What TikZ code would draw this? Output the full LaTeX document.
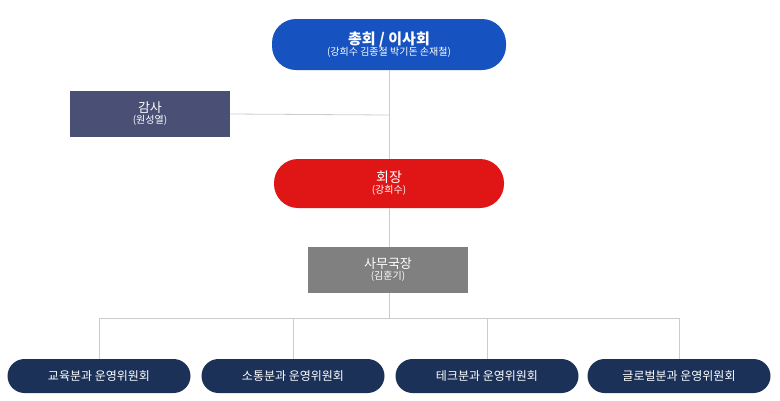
\documentclass[tikz,border=0pt]{standalone}
\usepackage{fontspec}
\setmainfont{Noto Sans CJK KR}
\begin{document}
\begin{tikzpicture}[x=1pt,y=-1pt,
  pill/.style={rounded corners=24pt,text=white,align=center,inner sep=0pt},
  box/.style={text=white,align=center,inner sep=0pt},
  conn/.style={draw=black!20,line width=0.8pt}]
\definecolor{cblue}{HTML}{1652C0}
\definecolor{cred}{HTML}{E01616}
\definecolor{cgray}{HTML}{808080}
\definecolor{cslate}{HTML}{4A5075}
\definecolor{cnavy}{HTML}{1B3158}
\useasboundingbox (0,0) rectangle (780,400);
\node[pill,fill=cblue,minimum width=234pt,minimum height=51pt] (top) at (389,44.5)
  {{\fontsize{15}{18}\selectfont\bfseries 총회 / 이사회}\\[-1pt]{\fontsize{10}{12}\selectfont (강희수 김종철 박기돈 손재철)}};
\node[box,fill=cslate,minimum width=160pt,minimum height=46pt] (gam) at (150,114)
  {{\fontsize{13}{16}\selectfont 감사}\\[-1pt]{\fontsize{10}{12}\selectfont (원성열)}};
\node[pill,fill=cred,minimum width=230pt,minimum height=49pt] (pres) at (389,183.5)
  {{\fontsize{14}{17}\selectfont 회장}\\[-1pt]{\fontsize{10}{12}\selectfont (강희수)}};
\node[box,fill=cgray,minimum width=160pt,minimum height=46pt] (sec) at (388,270)
  {{\fontsize{13}{16}\selectfont 사무국장}\\[-1pt]{\fontsize{10}{12}\selectfont (김훈기)}};
\coordinate (j1) at (389,115);
\coordinate (j2) at (389,318);
\foreach \n/\x/\t in {b1/99/교육분과 운영위원회,b2/293/소통분과 운영위원회,b3/487/테크분과 운영위원회,b4/679/글로벌분과 운영위원회}{
  \node[pill,rounded corners=17pt,fill=cnavy,minimum width=183pt,minimum height=34pt,font=\fontsize{12}{14}\selectfont] (\n) at (\x,376) {\t};
  \draw[conn] (\n.north) -- (\x,318);
}
\begin{scope}[on background layer/.try]
\end{scope}
\draw[conn] (top.south) -- (pres.north);
\draw[conn] (gam.east) -- (j1);
\draw[conn] (pres.south) -- (sec.north -| pres.south);
\draw[conn] (sec.south -| pres.south) -- (j2);
\draw[conn] (b1.north |- j2) -- (b4.north |- j2);
\end{tikzpicture}
\end{document}
